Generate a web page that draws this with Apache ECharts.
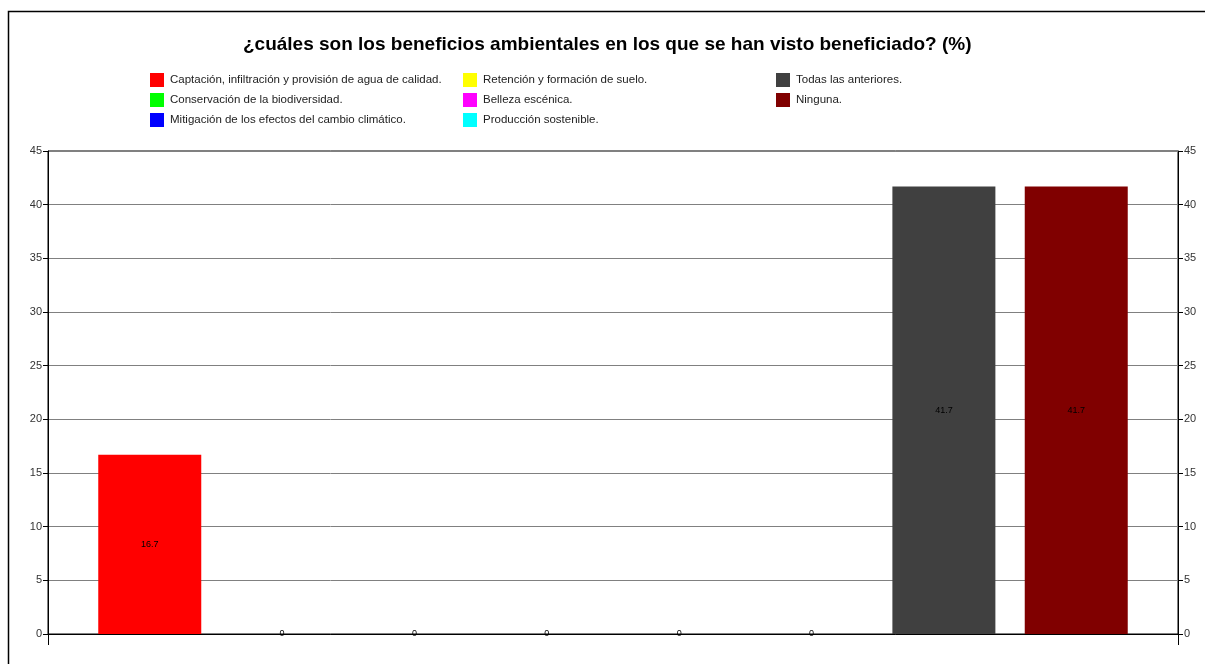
<!DOCTYPE html>
<html>
<head>
<meta charset="utf-8">
<script src="https://cdn.jsdelivr.net/npm/echarts@6/dist/echarts.min.js"></script>
<style>html,body{margin:0;padding:0;background:#fff;}#c{width:1205px;height:664px;}</style>
</head>
<body>
<div id="c"></div>
<script>
const titleText = '¿cuáles son los beneficios ambientales en los que se han visto beneficiado? (%)';
const seriesNames = [
  'Captación, infiltración y provisión de agua de calidad.',
  'Conservación de la biodiversidad.',
  'Mitigación de los efectos del cambio climático.',
  'Retención y formación de suelo.',
  'Belleza escénica.',
  'Producción sostenible.',
  'Todas las anteriores.',
  'Ninguna.'
];
const seriesValues = [16.7, 0, 0, 0, 0, 0, 41.7, 41.7];
const seriesColors = ['#ff0000', '#00ff00', '#0000ff', '#ffff00', '#ff00ff', '#00ffff', '#404040', '#800000'];
const categories = [''];
const yTicks = {min: 0, max: 45, interval: 5};

const chart = echarts.init(document.getElementById('c'), null, {renderer: 'canvas'});

const series = seriesNames.map((n, i) => ({
  name: n,
  type: 'bar',
  data: [seriesValues[i]],
  barWidth: 103,
  barGap: '28.5%',
  itemStyle: {color: seriesColors[i]},
  label: {
    show: true,
    position: 'inside',
    formatter: p => String(p.value),
    color: '#000',
    fontSize: 9,
    fontFamily: 'Arial, Liberation Sans, sans-serif'
  },
  emphasis: {disabled: true}
}));

const legendBase = {
  orient: 'vertical',
  top: 73,
  itemWidth: 14,
  itemHeight: 14,
  itemGap: 6,
  icon: 'rect',
  textStyle: {fontSize: 11.5, color: '#222', fontFamily: 'Arial, Liberation Sans, sans-serif', padding: [0,0,0,1]},
  selectedMode: false,
  padding: 0
};

chart.setOption({
  animation: false,
  title: {
    text: titleText,
    left: 243,
    top: 35,
    padding: 0,
    textStyle: {fontSize: 19, fontWeight: 'bold', color: '#000', fontFamily: 'Arial, Liberation Sans, sans-serif'}
  },
  legend: [
    Object.assign({}, legendBase, {left: 150, data: seriesNames.slice(0, 3)}),
    Object.assign({}, legendBase, {left: 463, data: seriesNames.slice(3, 6)}),
    Object.assign({}, legendBase, {left: 776, data: seriesNames.slice(6, 8)})
  ],
  grid: {left: 48, right: 27, top: 151, bottom: 30, containLabel: false, show: true, borderColor: '#000', borderWidth: 1, backgroundColor: 'transparent'},
  xAxis: {
    type: 'category',
    data: categories,
    axisLine: {show: true, lineStyle: {color: '#000'}},
    axisTick: {show: true, length: 11, inside: false, lineStyle: {color: '#000'}},
    axisLabel: {show: false},
    splitLine: {show: false}
  },
  yAxis: [
    {
      type: 'value', position: 'left',
      min: yTicks.min, max: yTicks.max, interval: yTicks.interval,
      axisLine: {show: true, lineStyle: {color: '#000'}},
      axisTick: {show: true, length: 5, lineStyle: {color: '#000'}},
      axisLabel: {fontSize: 11, color: '#333', margin: 6, fontFamily: 'Arial, Liberation Sans, sans-serif'},
      splitLine: {show: true, lineStyle: {color: '#808080', width: 1}}
    },
    {
      type: 'value', position: 'right',
      min: yTicks.min, max: yTicks.max, interval: yTicks.interval,
      axisLine: {show: true, lineStyle: {color: '#000'}},
      axisTick: {show: true, length: 5, lineStyle: {color: '#000'}},
      axisLabel: {fontSize: 11, color: '#333', margin: 6, fontFamily: 'Arial, Liberation Sans, sans-serif'},
      splitLine: {show: false}
    }
  ],
  graphic: [{
    type: 'rect',
    shape: {x: 8.5, y: 11.5, width: 1300, height: 800},
    style: {fill: 'none', stroke: '#000', lineWidth: 1.5},
    silent: true,
    z: -10
  }],
  series: series
});
</script>
</body>
</html>
